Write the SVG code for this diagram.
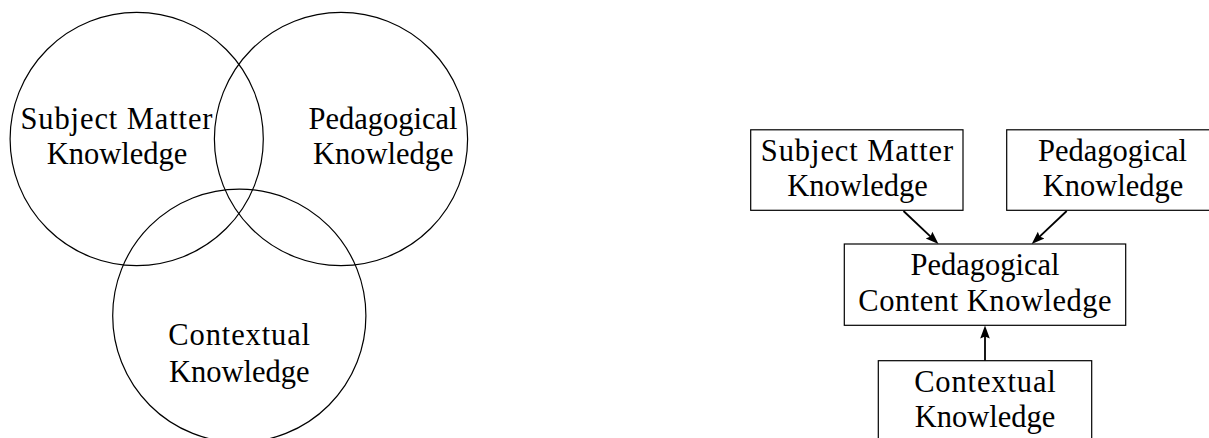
<svg xmlns="http://www.w3.org/2000/svg" width="1209" height="438" viewBox="0 0 1209 438">
<defs>
<style>
.bg{fill:#ffffff}
.circ{fill:none;stroke:#000;stroke-width:1.2}
.box{fill:#ffffff;stroke:#000;stroke-width:1.2}
.lbl{font-family:"Liberation Serif","Times New Roman",serif;font-size:30.5px;fill:#000;text-anchor:middle}
.arrow{fill:none;stroke:#000;stroke-width:1.8;marker-end:url(#head)}
</style>
<marker id="head" markerUnits="userSpaceOnUse" markerWidth="14" markerHeight="12" viewBox="0 0 14 12" refX="9" refY="6" orient="auto">
<path d="M0,1.2 L13,6 L0,10.8 L2,6 Z" fill="#000"/>
</marker>
</defs>
<rect class="bg" x="0" y="0" width="1209" height="438"/>

<g id="venn-smk">
<circle class="circ" cx="136.7" cy="139" r="126.6"/>
<text class="lbl" x="116.5" y="128.5" textLength="192" lengthAdjust="spacing">Subject Matter</text>
<text class="lbl" x="117" y="163.5">Knowledge</text>
</g>
<g id="venn-pk">
<circle class="circ" cx="341" cy="139" r="126.6"/>
<text class="lbl" x="383" y="128.5">Pedagogical</text>
<text class="lbl" x="383.3" y="163.5">Knowledge</text>
</g>
<g id="venn-ck">
<circle class="circ" cx="239.3" cy="315.7" r="126.6"/>
<text class="lbl" x="239.2" y="345" textLength="141.7" lengthAdjust="spacing">Contextual</text>
<text class="lbl" x="239.3" y="381.5">Knowledge</text>
</g>

<g id="box-smk">
<rect class="box" x="750.7" y="129.8" width="212.3" height="80.5"/>
<text class="lbl" x="857" y="161" textLength="192.5" lengthAdjust="spacing">Subject Matter</text>
<text class="lbl" x="857.5" y="196">Knowledge</text>
</g>
<g id="box-pk">
<rect class="box" x="1006.7" y="129.8" width="212.3" height="80.5"/>
<text class="lbl" x="1112.5" y="161">Pedagogical</text>
<text class="lbl" x="1113" y="196">Knowledge</text>
</g>
<g id="box-pck">
<rect class="box" x="844.3" y="244" width="281.4" height="81.3"/>
<text class="lbl" x="985" y="275">Pedagogical</text>
<text class="lbl" x="985" y="310.5" textLength="253.3" lengthAdjust="spacing">Content Knowledge</text>
</g>
<g id="box-ck">
<rect class="box" x="878.3" y="360.7" width="213.4" height="90"/>
<text class="lbl" x="985" y="391.5" textLength="141.7" lengthAdjust="spacing">Contextual</text>
<text class="lbl" x="985" y="426.5">Knowledge</text>
</g>

<g id="connectors">
<line class="arrow" x1="903.5" y1="211" x2="935.6" y2="241.3"/>
<line class="arrow" x1="1066.7" y1="211" x2="1034.6" y2="241.3"/>
<line class="arrow" x1="985" y1="360.7" x2="985" y2="329.5"/>
</g>
</svg>
